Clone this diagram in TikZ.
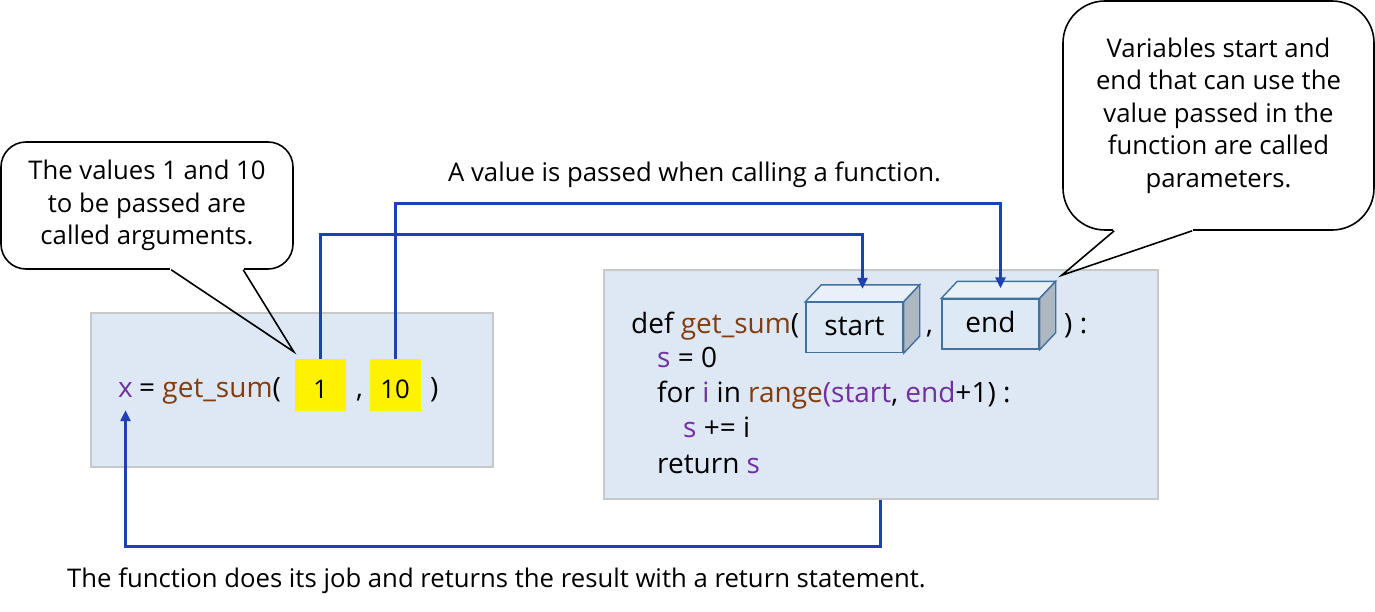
\documentclass[tikz,border=0pt]{standalone}
\usepackage{fontspec}
\setmainfont{Open Sans}
\usetikzlibrary{positioning,arrows.meta,calc}
\definecolor{codebg}{HTML}{DEE8F4}
\definecolor{codeedge}{HTML}{C8C8C8}
\definecolor{fnbrown}{HTML}{843C0C}
\definecolor{varpurple}{HTML}{7030A0}
\definecolor{passblue}{HTML}{1F3FB4}
\definecolor{boxedge}{HTML}{41719C}
\definecolor{boxfront}{HTML}{DDE9F5}
\definecolor{boxtop}{HTML}{E8F0F9}
\definecolor{boxside}{HTML}{AEB8C3}
\newcommand{\fnname}[1]{\textcolor{fnbrown}{#1}}
\newcommand{\varname}[1]{\textcolor{varpurple}{#1}}

\begin{document}
\begin{tikzpicture}[x=1pt,y=-1pt,
  font=\fontsize{25.7}{32.5}\selectfont,
  every node/.style={inner sep=0pt},
  note/.style={draw,line width=1.6pt,fill=white,align=center},
  codearea/.style={draw=codeedge,line width=1.6pt,fill=codebg,anchor=north west},
  argbox/.style={fill=yellow,minimum width=51pt,minimum height=52pt,text height=26pt,text depth=0pt},
  parambox/.style={draw=boxedge,line width=1.4pt,fill=boxfront,minimum width=97pt,minimum height=50pt,
    font=\fontsize{28}{35}\selectfont,text height=16pt,text depth=0pt},
  code/.style={anchor=base west,font=\fontsize{28}{35}\selectfont},
  passline/.style={draw=passblue,line width=3pt,-{Triangle[length=11pt,width=10pt]}}]
  \useasboundingbox (0,0) rectangle (1375,612);

  % callouts
  \node[note,rounded corners=25pt,minimum width=292pt,minimum height=127pt] (argnote) at (147,205.5)
    {The values 1 and 10\\to be passed are\\called arguments.};
  \node[note,rounded corners=42pt,minimum width=311pt,minimum height=229pt] (paramnote) at (1218.5,115.5)
    {Variables start and\\end that can use the\\value passed in the\\function are called\\parameters.};

  % code areas
  \node[codearea,minimum width=402pt,minimum height=154pt] (callarea) at (90,312) {};
  \node[codearea,minimum width=554pt,minimum height=229pt] (defarea) at (603,269) {};

  % the call
  \node[code] (xvar) at (118,397) {\varname{x}};
  \node[code] (callhead) at (139,397) {= \fnname{get\_sum}(};
  \node[argbox] (argone) at (320.5,385) {1};
  \node[code] (callcomma) at (356,397) {,};
  \node[argbox] (argten) at (395,385) {10};
  \node[code] (callclose) at (430,397) {)};

  % the definition
  \node[code] (defhead) at (631,333) {def \fnname{get\_sum}(};
  \node[parambox] (startparam) at (854.5,327.5) {start};
  \node[code] (defcomma) at (926,333) {,};
  \node[parambox] (endparam) at (990.5,324) {end};
  \node[code] (defclose) at (1064,333) {) :};
  \foreach \p in {startparam,endparam} {
    \draw[boxedge,line width=1.4pt,fill=boxtop] (\p.north west) -- ++(16,-17) -- ($(\p.north east)+(16,-17)$) -- (\p.north east) -- cycle;
    \draw[boxedge,line width=1.4pt,fill=boxside] (\p.north east) -- ++(16,-17) -- ($(\p.south east)+(16,-17)$) -- (\p.south east) -- cycle;
  }
  \node[code] (bodyone) at (657,367) {\varname{s} = 0};
  \node[code] (bodytwo) at (657,402) {for \varname{i} in \fnname{range}\varname{(start}, \varname{end}+1) :};
  \node[code] (bodythree) at (683,437) {\varname{s} += i};
  \node[code] (bodyfour) at (657,473) {return \varname{s}};

  % callout tails
  \fill[white] ($(argnote.south west)+(170,-2.5)$) rectangle ($(argnote.south west)+(244,2.5)$);
  \draw[line width=1.6pt] ($(argnote.south west)+(171,0)$) -- ($(argone.north west)+(-1,-7)$) -- ($(argnote.south west)+(243,0)$);
  \fill[white] ($(paramnote.south west)+(51,-2.5)$) rectangle ($(paramnote.south west)+(131,2.5)$);
  \draw[line width=1.6pt] ($(paramnote.south west)+(52,0)$) -- ($(endparam.north east)+(22,-23)$) -- ($(paramnote.south west)+(130,0)$);

  % passing and returning
  \draw[passline] (argone.north) -- ++(0,-124) -| ($(startparam.north)+(8,-13)$);
  \draw[passline] (argten.north) -- ++(0,-155) -| ($(endparam.north)+(10,-10)$);
  \draw[passline] (defarea.south) -- ++(0,47) -| ($(xvar.south)+(0,13)$);

  \node[anchor=base] (passtext) at (694.5,182) {A value is passed when calling a function.};
  \node[anchor=base] (returntext) at (496.5,587) {The function does its job and returns the result with a return statement.};
\end{tikzpicture}
\end{document}
